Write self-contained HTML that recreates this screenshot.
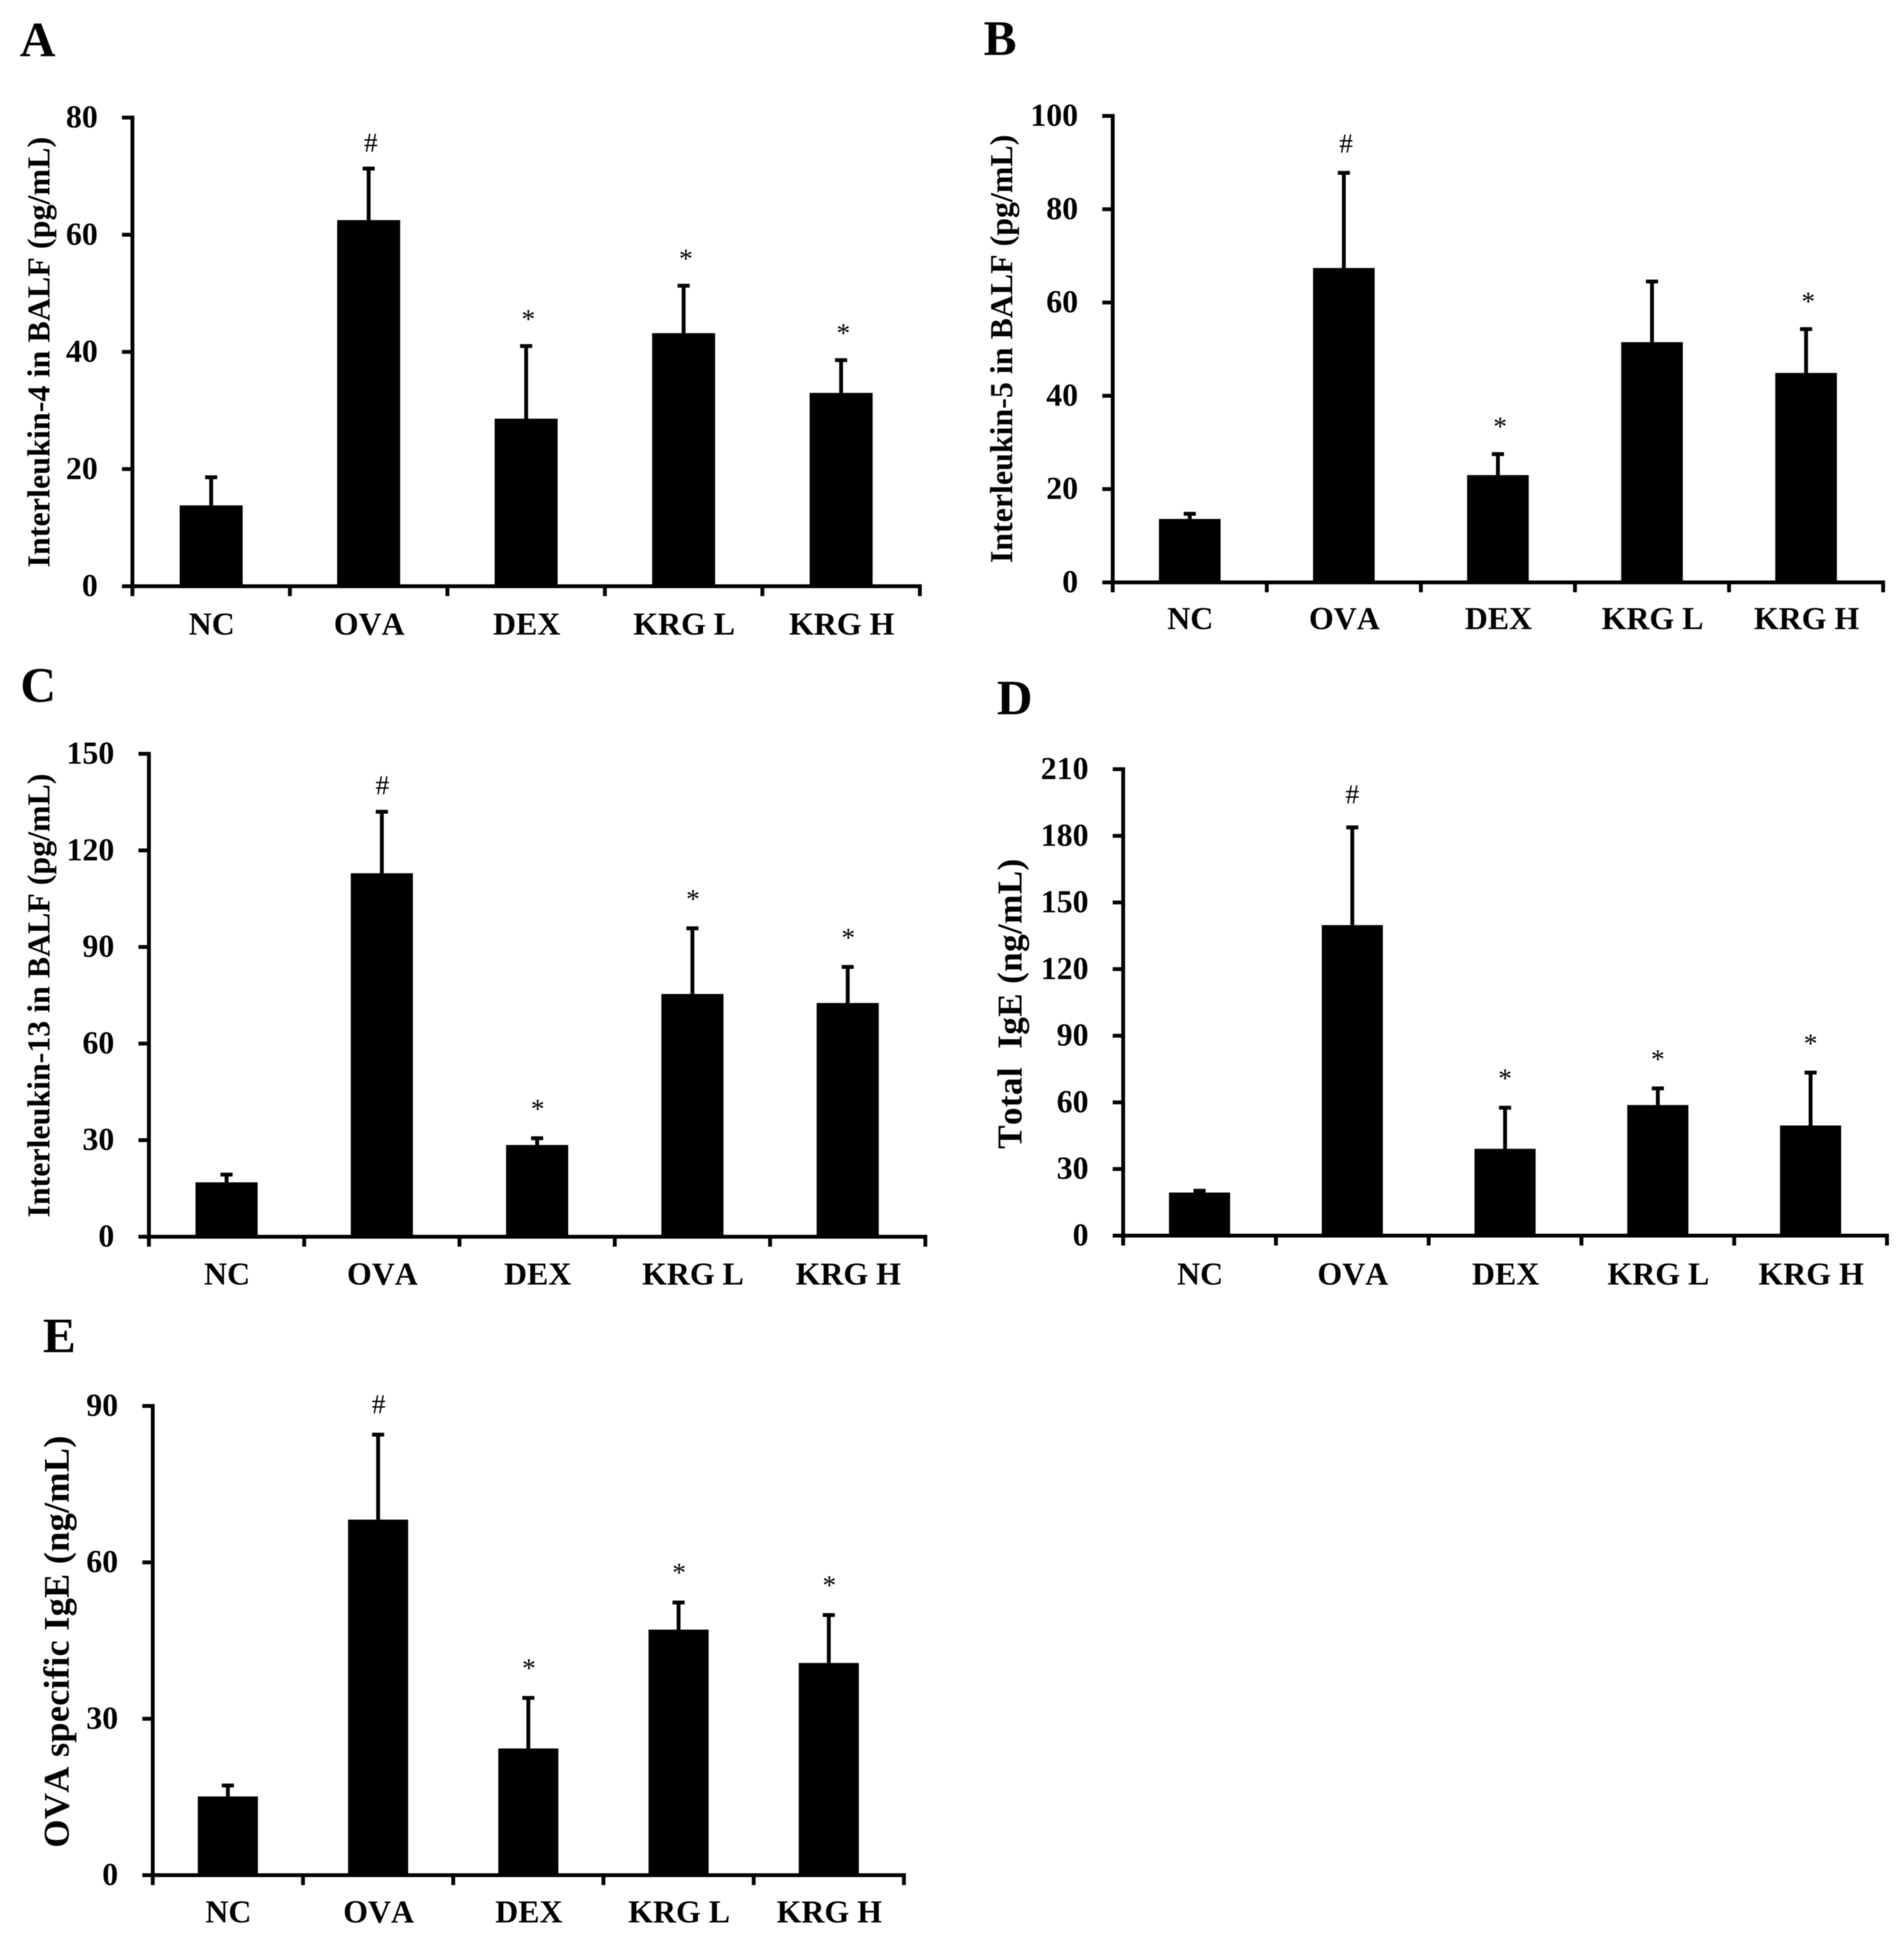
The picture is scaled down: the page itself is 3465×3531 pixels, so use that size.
<!DOCTYPE html>
<html lang="en">
<head>
<meta charset="utf-8">
<title>Cytokine and IgE levels by treatment group</title>
<style>
  html, body { margin: 0; padding: 0; background: #fff; }
  body { width: 3465px; height: 3531px; overflow: hidden; }
  svg { display: block; filter: blur(0.8px); }
  text { font-family: "Liberation Serif", serif; fill: #000; font-kerning: none; }
  .bold { font-weight: 700; }
</style>
</head>
<body>
<svg id="figure" xmlns="http://www.w3.org/2000/svg" width="3465" height="3531" viewBox="0 0 3465 3531">
  <rect x="0" y="0" width="3465" height="3531" fill="#fff"></rect>
</svg>
<script>
// Shared categories
const categories = ['NC', 'OVA', 'DEX', 'KRG L', 'KRG H'];

// Panel A
const ticksA = [0, 20, 40, 60, 80];
const meansA = [13.8, 62.5, 28.6, 43.2, 33];
const upperA = [18.6, 71.3, 41, 51.3, 38.6];
const marksA = ['', '#', '*', '*', '*'];

// Panel B
const ticksB = [0, 20, 40, 60, 80, 100];
const meansB = [13.6, 67.4, 23, 51.5, 44.9];
const upperB = [14.7, 87.8, 27.5, 64.5, 54.3];
const marksB = ['', '#', '*', '', '*'];

// Panel C
const ticksC = [0, 30, 60, 90, 120, 150];
const meansC = [16.9, 112.9, 28.5, 75.4, 72.6];
const upperC = [19.3, 132, 30.6, 95.8, 83.8];
const marksC = ['', '#', '*', '*', '*'];

// Panel D
const ticksD = [0, 30, 60, 90, 120, 150, 180, 210];
const meansD = [19.4, 139.8, 39.1, 58.8, 49.6];
const upperD = [20.2, 183.8, 57.6, 66.3, 73.4];
const marksD = ['', '#', '*', '*', '*'];

// Panel E
const ticksE = [0, 30, 60, 90];
const meansE = [15.1, 68.2, 24.3, 47.1, 40.7];
const upperE = [17.2, 84.5, 34, 52.3, 49.9];
const marksE = ['', '#', '*', '*', '*'];

const panels = [
  { id: 'a', letter: 'A', letterX: 36, letterY: 102, left: 241, right: 1674, top: 214, base: 1067,
    title: 'Interleukin-4 in BALF (pg/mL)', titleX: 90, titleY: 641, titleLen: 784, titleSize: 58, labelGap: 88,
    hashGap: 31, starGap: 33, markDx: 4,
    ticks: ticksA, means: meansA, upper: upperA, marks: marksA },
  { id: 'b', letter: 'B', letterX: 1790, letterY: 100, left: 2025, right: 3427, top: 211, base: 1060,
    title: 'Interleukin-5 in BALF (pg/mL)', titleX: 1842, titleY: 635, titleLen: 780, titleSize: 58, labelGap: 85,
    hashGap: 37, starGap: 34, markDx: 4,
    ticks: ticksB, means: meansB, upper: upperB, marks: marksB },
  { id: 'c', letter: 'C', letterX: 37, letterY: 1277, left: 271, right: 1684, top: 1372, base: 2251,
    title: 'Interleukin-13 in BALF (pg/mL)', titleX: 90, titleY: 1812, titleLen: 808, titleSize: 58, labelGap: 87,
    hashGap: 32, starGap: 37, markDx: 1,
    ticks: ticksC, means: meansC, upper: upperC, marks: marksC },
  { id: 'd', letter: 'D', letterX: 1814, letterY: 1300, left: 2044, right: 3434, top: 1400, base: 2249,
    title: 'Total  IgE (ng/mL)', titleX: 1859, titleY: 1827, titleLen: 528, titleSize: 64, labelGap: 89,
    hashGap: 44, starGap: 37, markDx: 0,
    ticks: ticksD, means: meansD, upper: upperD, marks: marksD },
  { id: 'e', letter: 'E', letterX: 78, letterY: 2461, left: 278, right: 1645, top: 2559, base: 3413,
    title: 'OVA specific IgE (ng/mL)', titleX: 125, titleY: 2988, titleLen: 750, titleSize: 66, labelGap: 86,
    hashGap: 39, starGap: 38, markDx: 1,
    ticks: ticksE, means: meansE, upper: upperE, marks: marksE }
];

const NS = 'http://www.w3.org/2000/svg';
const figure = document.getElementById('figure');

function make(tag, attrs, parent) {
  const node = document.createElementNS(NS, tag);
  for (const key in attrs) node.setAttribute(key, attrs[key]);
  parent.appendChild(node);
  return node;
}

function drawPanel(p) {
  const group = make('g', {}, figure);
  
  

  const maxValue = p.ticks[p.ticks.length - 1];
  const yScale = function (v) { return p.base - (v / maxValue) * (p.base - p.top); };
  const band = (p.right - p.left) / categories.length;
  const xScale = function (i) { return p.left + (i + 0.5) * band; };
  const barWidth = band * 0.4;

  const letter = make('text', { x: p.letterX, y: p.letterY, 'font-size': 90, 'class': 'bold' }, group);
  
  
  letter.textContent = p.letter;

  const title = make('text', {
    x: p.titleX, y: p.titleY, 'font-size': p.titleSize, 'class': 'bold', 'text-anchor': 'middle',
    textLength: p.titleLen, lengthAdjust: 'spacing',
    transform: 'rotate(-90 ' + p.titleX + ' ' + p.titleY + ')'
  }, group);
  
  
  title.style.whiteSpace = 'pre';
  title.textContent = p.title;

  categories.forEach(function (cat, i) {
    const cx = xScale(i);
    const barTop = yScale(p.means[i]);
    const errTop = yScale(p.upper[i]);

    const stem = make('rect', { x: cx - 3.5, y: errTop, width: 7, height: barTop - errTop, fill: '#000' }, group);
    
    

    const cap = make('rect', { x: cx - 11, y: errTop - 3.5, width: 22, height: 7, fill: '#000' }, group);
    
    

    const bar = make('rect', { x: cx - barWidth / 2, y: barTop, width: barWidth, height: p.base - barTop, fill: '#000' }, group);
    
    

    if (p.marks[i]) {
      const gap = p.marks[i] === '#' ? p.hashGap : p.starGap;
      const mark = make('text', { x: cx + p.markDx, y: errTop - gap, 'font-size': 50, 'text-anchor': 'middle' }, group);
      
      
      mark.textContent = p.marks[i];
    }

    const label = make('text', { x: cx + 1, y: p.base + p.labelGap, 'font-size': 58, 'class': 'bold', 'text-anchor': 'middle' }, group);
    
    
    label.textContent = cat;
  });

  const yAxis = make('rect', { x: p.left - 3.5, y: p.top - 3.5, width: 7, height: p.base - p.top + 7, fill: '#000' }, group);
  
  

  const xAxis = make('rect', { x: p.left - 3.5, y: p.base - 3.5, width: p.right - p.left + 7, height: 7, fill: '#000' }, group);
  
  

  p.ticks.forEach(function (t) {
    const ty = yScale(t);
    const tick = make('rect', { x: p.left - 19, y: ty - 3.5, width: 19, height: 7, fill: '#000' }, group);
    
    

    const tickLabel = make('text', { x: p.left - 63, y: ty + 18, 'font-size': 58, 'class': 'bold', 'text-anchor': 'end' }, group);
    
    
    tickLabel.textContent = String(t);
  });

  for (let i = 0; i <= categories.length; i++) {
    const tx = p.left + i * band;
    const xTick = make('rect', { x: tx - 3.5, y: p.base, width: 7, height: 18, fill: '#000' }, group);
    
    
  }
}

panels.forEach(drawPanel);
</script>
</body>
</html>
